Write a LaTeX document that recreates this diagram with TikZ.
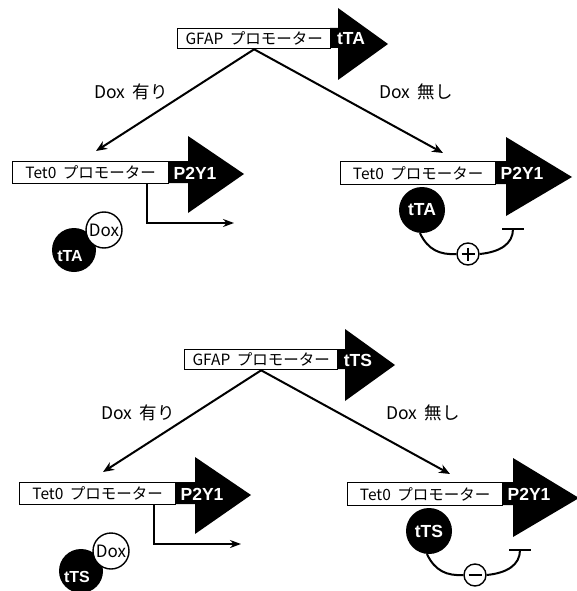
\documentclass[tikz,border=0pt]{standalone}
\usepackage{fontspec}
\newfontfamily\jpfont{Noto Sans CJK JP}
\newfontfamily\genefont{Liberation Sans}
\usetikzlibrary{arrows.meta,calc}

\tikzset{
  promoter/.style={draw, line width=1.3pt, fill=white, inner sep=0pt, anchor=north west,
    font=\jpfont\fontsize{15.5}{15.5}\selectfont},
  genearrow/.style={fill=black},
  genelabel/.style={text=white, inner sep=0pt, font=\genefont\bfseries\fontsize{17.5}{17.5}\selectfont},
  branch/.style={line width=2pt, -{Stealth[length=11pt,width=9pt]}},
  condlabel/.style={inner sep=0pt, font=\jpfont\fontsize{17.5}{17.5}\selectfont},
  startarrow/.style={line width=2pt, -{Stealth[length=11pt,width=8pt]}},
  factor/.style={circle, fill=black, inner sep=0pt, minimum size=44pt},
  factorlabel/.style={text=white, inner sep=0pt, font=\genefont\bfseries\fontsize{17.5}{17.5}\selectfont},
  complexlabel/.style={text=white, inner sep=0pt, font=\genefont\bfseries\fontsize{16}{16}\selectfont},
  drug/.style={circle, draw, line width=1.4pt, fill=white, inner sep=0pt, minimum size=36pt,
    font=\jpfont\fontsize{17}{17}\selectfont},
  regline/.style={line width=2pt},
  signcircle/.style={circle, draw, line width=1.4pt, fill=white, minimum size=22pt, inner sep=0pt},
  signbar/.style={line width=2.2pt},
}

% One Tet-On/Tet-Off panel:
% #1 name prefix, #2 transactivator, #3 1 = activator (+) / 0 = repressor (-), #4 shift
\newcommand\drawpanel[4]{%
\begin{scope}[shift={#4}]
  % driver construct
  \node[promoter, minimum width=153pt, minimum height=20pt] (#1gfap) at (177,28) {GFAP\hspace{3pt} プロモーター};
  \fill[genearrow] (330,28) -- (338,28) -- (338,8) -- (388,44) -- (338,80) -- (338,48) -- (330,48) -- cycle;
  \node[genelabel] (#1drv) at (351,39) {#2};

  % branches
  \coordinate (#1tipL) at (96,151);
  \coordinate (#1tipR) at (443,153);
  \draw[branch] (#1gfap.south) -- (#1tipL);
  \draw[branch] (#1gfap.south) -- (#1tipR);
  \node[condlabel] (#1with) at (131,92) {Dox\hspace{4pt} 有り};
  \node[condlabel] (#1without) at (416,92) {Dox\hspace{4pt} 無し};

  % with Dox: reporter transcribed, factor bound by Dox
  \node[promoter, minimum width=156pt, minimum height=22pt] (#1tetL) at (12,161) {Tet0\hspace{3pt} プロモーター};
  \fill[genearrow] (168,161) -- (188,161) -- (188,136) -- (244,174) -- (188,213) -- (188,183) -- (168,183) -- cycle;
  \node[genelabel] (#1geneL) at (195,173) {P2Y1};
  \coordinate (#1txs) at (147,183);
  \coordinate (#1txe) at (234,223);
  \draw[startarrow] (#1txs) |- (#1txe);
  \node[factor] (#1facL) at (74,250) {};
  \node[complexlabel] (#1facLtxt) at (70,256) {#2};
  \node[drug] (#1dox) at (104,230) {Dox};

  % without Dox: factor bound to the promoter
  \node[promoter, minimum width=155pt, minimum height=23pt] (#1tetR) at (340,161) {Tet0\hspace{3pt} プロモーター};
  \fill[genearrow] (495,161) -- (506,161) -- (506,137) -- (572,177) -- (506,216) -- (506,184) -- (495,184) -- cycle;
  \node[genelabel] (#1geneR) at (522,173) {P2Y1};
  \node[factor, minimum size=46pt] (#1facR) at (422,210) {};
  \node[factorlabel] (#1facRtxt) at (422,210) {#2};
  \node[signcircle] (#1sign) at (468,254) {};
  \coordinate (#1bar) at (513,229);
  \draw[regline] (#1facR.265) .. controls (428,250) and (440,255) .. (#1sign.west);
  \draw[regline] (#1sign.east) .. controls (500,252) and (513,244) .. (#1bar);
  \draw[regline] ($(#1bar)+(-11,0)$) -- ($(#1bar)+(11,0)$);
  \draw[signbar] ($(#1sign.center)+(-6.5,0)$) -- ($(#1sign.center)+(6.5,0)$);
  \ifnum#3=1
    \draw[signbar] ($(#1sign.center)+(0,-6.5)$) -- ($(#1sign.center)+(0,6.5)$);
  \fi
\end{scope}}

\begin{document}
\begin{tikzpicture}[x=1pt, y=-1pt]
  \fill[white] (0,0) rectangle (577,591);
  \useasboundingbox (0,0) rectangle (577,591);
  \drawpanel{a}{tTA}{1}{(0,0)}
  \drawpanel{b}{tTS}{0}{(7,321)}
\end{tikzpicture}
\end{document}
